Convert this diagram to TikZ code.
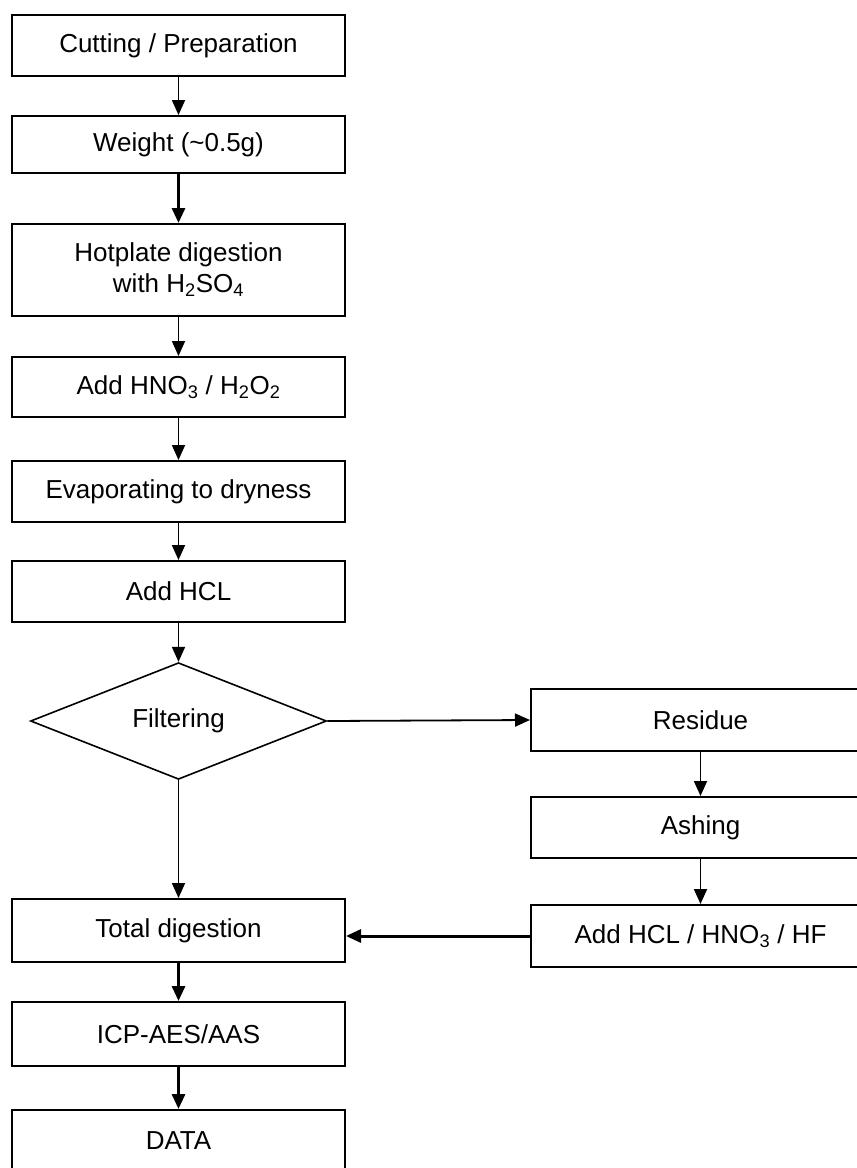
\documentclass[tikz,border=0pt]{standalone}
\usepackage{fontspec}
\setmainfont{Liberation Sans}
\usetikzlibrary{
    arrows.meta,
    shapes.geometric,
    positioning
}

\tikzset{
    stage/.style={draw, line width=2pt, minimum width=333pt, inner sep=0pt, align=center},
    side/.style={draw, line width=2pt, minimum width=339pt, inner sep=0pt, align=center},
    flow/.style={line width=1.8pt, -{Triangle[length=15pt, width=13pt]}},
    heavy/.style={flow, line width=3pt}
}

\begin{document}
\begin{tikzpicture}[x=1pt, y=-1pt, font=\fontsize{26}{31}\selectfont]
    \useasboundingbox (0, 0) rectangle (857, 1168);
    \clip (0, 0) rectangle (857, 1168);
    \fill[white] (0, 0) rectangle (857, 1168);

    % main column
    \node[stage, minimum height=61pt] (cut) at (178.5, 45.5) {Cutting / Preparation};
    \node[stage, minimum height=57pt] (weigh) at (178.5, 144.5) {Weight (\textasciitilde0.5g)};
    \node[stage, minimum height=92pt] (hot) at (178.5, 270) {Hotplate digestion\\with H\textsubscript{2}SO\textsubscript{4}};
    \node[stage, minimum height=60pt] (hno) at (178.5, 387) {Add HNO\textsubscript{3} / H\textsubscript{2}O\textsubscript{2}};
    \node[stage, minimum height=61pt] (evap) at (178.5, 491.5) {Evaporating to dryness};
    \node[stage, minimum height=61pt] (hcl) at (178.5, 591.5) {Add HCL};
    \node[draw, diamond, line width=1.6pt, minimum width=296pt, minimum height=104pt, inner sep=0pt] (filter) at (178.5, 721) {Filtering};
    \node[stage, minimum height=63pt] (total) at (178.5, 930.5) {Total digestion};
    \node[stage, minimum height=64pt] (icp) at (178.5, 1034) {ICP-AES/AAS};
    \node[stage, minimum height=62pt] (data) at (178.5, 1141) {DATA};

    % residue branch
    \node[side, minimum height=62pt] (res) at (700.5, 720) {Residue};
    \node[side, minimum height=61pt] (ash) at (700.5, 827.5) {Ashing};
    \node[side, minimum height=62pt] (mix) at (700.5, 936) {Add HCL / HNO\textsubscript{3} / HF};

    \draw[flow] (cut) -- (weigh);
    \draw[heavy] (weigh) -- (hot);
    \draw[flow] (hot) -- (hno);
    \draw[flow] (hno) -- (evap);
    \draw[flow] (evap) -- (hcl);
    \draw[flow] (hcl) -- (filter);
    \draw[flow] (filter) -- (total);
    \draw[heavy] (total) -- (icp);
    \draw[heavy] (icp) -- (data);
    \draw[flow] (filter.east) -- (res.west);
    \draw[flow] (res) -- (ash);
    \draw[flow] (ash) -- (mix);
    \draw[heavy] (mix.west) -- (mix.west -| total.east);
\end{tikzpicture}
\end{document}
